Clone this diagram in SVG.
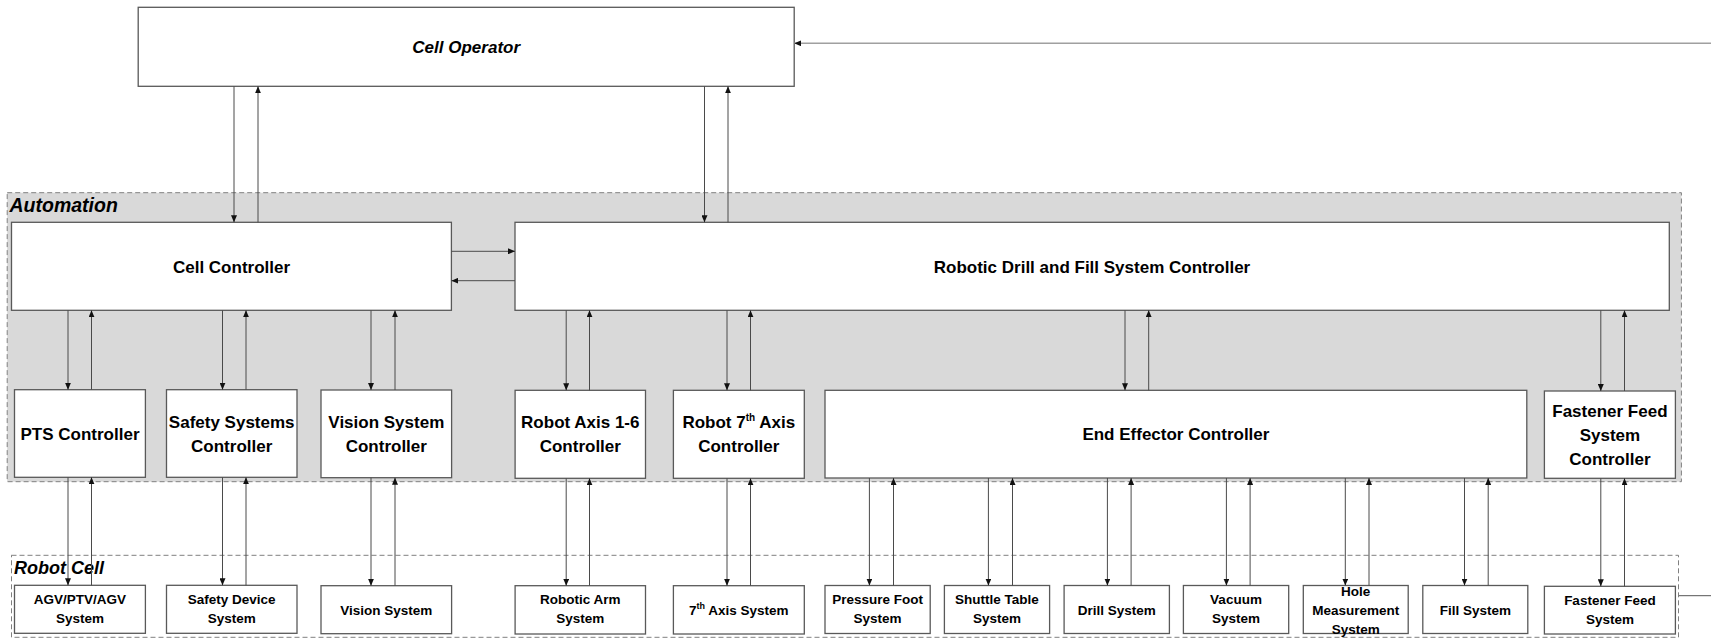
<svg xmlns="http://www.w3.org/2000/svg" width="1711" height="640" viewBox="0 0 1711 640">
  <defs>
    <marker id="arrow" viewBox="0 0 7 6" refX="7" refY="3" markerWidth="7" markerHeight="6" markerUnits="userSpaceOnUse" orient="auto">
      <path d="M0,0 L7,3 L0,6 z" fill="#111"/>
    </marker>
    <style>
      .box { fill: #fff; stroke: #595959; stroke-width: 1.3; }
      .zone { stroke: #808080; stroke-width: 1; stroke-dasharray: 5 3; }
      .t { font-family: "Liberation Sans", Arial, sans-serif; font-weight: bold; fill: #000; text-anchor: middle; }
      .big { font-size: 17px; }
      .small { font-size: 13.5px; }
      .zlabel { font-family: "Liberation Sans", Arial, sans-serif; font-weight: bold; font-style: italic; font-size: 18px; fill: #000; }
      .link { fill: none; stroke: #4a4a4a; stroke-width: 1; marker-end: url(#arrow); }
    </style>
  </defs>

  <rect width="1711" height="640" fill="#fff"/>

  <!-- Zones -->
  <g id="zone-automation">
    <rect class="zone" x="7.2" y="192.7" width="1674.2" height="289" fill="#d9d9d9"/>
    <text class="zlabel" x="9.5" y="211.5" style="font-size:19.5px">Automation</text>
  </g>
  <g id="zone-robot-cell">
    <rect class="zone" x="11.5" y="555.3" width="1667" height="82" fill="none"/>
    <text class="zlabel" x="14" y="574">Robot Cell</text>
  </g>

  <!-- Top level -->
  <g id="cell-operator">
    <rect class="box" x="138.2" y="7.3" width="656" height="79"/>
    <text class="t big" x="466.2" y="52.7" font-style="italic">Cell Operator</text>
  </g>
  <g id="cell-controller">
    <rect class="box" x="11.5" y="222.3" width="439.9" height="88"/>
    <text class="t big" x="231.5" y="272.5">Cell Controller</text>
  </g>
  <g id="drill-fill-controller">
    <rect class="box" x="515" y="222.3" width="1154.3" height="88"/>
    <text class="t big" x="1092" y="272.5">Robotic Drill and Fill System Controller</text>
  </g>

  <!-- Controllers -->
  <g id="pts-controller">
    <rect class="box" x="14.5" y="389.7" width="130.9" height="87.6"/>
    <text class="t big" x="80" y="439.6">PTS Controller</text>
  </g>
  <g id="safety-controller">
    <rect class="box" x="166.5" y="389.7" width="130.5" height="87.6"/>
    <text class="t big" x="231.7" y="427.7">Safety Systems</text>
    <text class="t big" x="231.7" y="451.7">Controller</text>
  </g>
  <g id="vision-controller">
    <rect class="box" x="321" y="390" width="130.6" height="87.7"/>
    <text class="t big" x="386.3" y="427.7">Vision System</text>
    <text class="t big" x="386.3" y="451.7">Controller</text>
  </g>
  <g id="robot-axis-controller">
    <rect class="box" x="515.1" y="390.3" width="130.4" height="88"/>
    <text class="t big" x="580.3" y="427.7">Robot Axis 1-6</text>
    <text class="t big" x="580.3" y="451.7">Controller</text>
  </g>
  <g id="seventh-axis-controller">
    <rect class="box" x="673.4" y="390.3" width="130.9" height="88"/>
    <text class="t big" x="738.8" y="427.7">Robot 7<tspan font-size="10" dy="-7">th</tspan><tspan dy="7"> Axis</tspan></text>
    <text class="t big" x="738.8" y="451.7">Controller</text>
  </g>
  <g id="end-effector-controller">
    <rect class="box" x="825" y="390.3" width="701.8" height="87.7"/>
    <text class="t big" x="1175.9" y="440.3">End Effector Controller</text>
  </g>
  <g id="fastener-feed-controller">
    <rect class="box" x="1544.4" y="391" width="131" height="87.3"/>
    <text class="t big" x="1609.9" y="417">Fastener Feed</text>
    <text class="t big" x="1609.9" y="441">System</text>
    <text class="t big" x="1609.9" y="464.5">Controller</text>
  </g>

  <!-- Cell systems -->
  <g id="agv-system">
    <rect class="box" x="14.5" y="585.3" width="130.9" height="48"/>
    <text class="t small" x="80" y="604.2">AGV/PTV/AGV</text>
    <text class="t small" x="80" y="623.2">System</text>
  </g>
  <g id="safety-device-system">
    <rect class="box" x="166.5" y="585.3" width="130.5" height="48"/>
    <text class="t small" x="231.7" y="604.2">Safety Device</text>
    <text class="t small" x="231.7" y="623.2">System</text>
  </g>
  <g id="vision-system">
    <rect class="box" x="321" y="585.7" width="130.6" height="48"/>
    <text class="t small" x="386.3" y="614.6">Vision System</text>
  </g>
  <g id="robotic-arm-system">
    <rect class="box" x="515.1" y="585.7" width="130.4" height="48.3"/>
    <text class="t small" x="580.3" y="604.4">Robotic Arm</text>
    <text class="t small" x="580.3" y="623.4">System</text>
  </g>
  <g id="seventh-axis-system">
    <rect class="box" x="673.4" y="585.7" width="130.9" height="48.3"/>
    <text class="t small" x="738.8" y="614.8">7<tspan font-size="9" dy="-6">th</tspan><tspan dy="6"> Axis System</tspan></text>
  </g>
  <g id="pressure-foot-system">
    <rect class="box" x="825" y="585.5" width="105.2" height="48"/>
    <text class="t small" x="877.6" y="604.4">Pressure Foot</text>
    <text class="t small" x="877.6" y="623.4">System</text>
  </g>
  <g id="shuttle-table-system">
    <rect class="box" x="944.4" y="585.5" width="105.2" height="48"/>
    <text class="t small" x="997" y="604.4">Shuttle Table</text>
    <text class="t small" x="997" y="623.4">System</text>
  </g>
  <g id="drill-system">
    <rect class="box" x="1064.1" y="585.5" width="105.3" height="48"/>
    <text class="t small" x="1116.7" y="614.6">Drill System</text>
  </g>
  <g id="vacuum-system">
    <rect class="box" x="1183.4" y="585.5" width="105.3" height="48"/>
    <text class="t small" x="1236" y="604.4">Vacuum</text>
    <text class="t small" x="1236" y="623.4">System</text>
  </g>
  <g id="hole-measurement-system">
    <rect class="box" x="1303.3" y="585.5" width="104.9" height="48"/>
    <text class="t small" x="1355.7" y="595.6">Hole</text>
    <text class="t small" x="1355.7" y="614.9">Measurement</text>
    <text class="t small" x="1355.7" y="633.9">System</text>
  </g>
  <g id="fill-system">
    <rect class="box" x="1422.8" y="585.5" width="105" height="48"/>
    <text class="t small" x="1475.3" y="614.6">Fill System</text>
  </g>
  <g id="fastener-feed-system">
    <rect class="box" x="1544.4" y="586.3" width="131" height="47.7"/>
    <text class="t small" x="1609.9" y="605">Fastener Feed</text>
    <text class="t small" x="1609.9" y="624">System</text>
  </g>

  <!-- Connectors -->
  <g id="connectors">
    <!-- operator links -->
    <line class="link" x1="234" y1="86.3" x2="234" y2="222.3"/>
    <line class="link" x1="258" y1="222.3" x2="258" y2="86.3"/>
    <line class="link" x1="704.5" y1="86.3" x2="704.5" y2="222.3"/>
    <line class="link" x1="728" y1="222.3" x2="728" y2="86.3"/>
    <line class="link" x1="1711" y1="43.3" x2="794.2" y2="43.3" style="stroke:#a0a0a0;stroke-width:1.6"/>

    <!-- cell controller and drill/fill controller -->
    <line class="link" x1="451.4" y1="251.3" x2="515" y2="251.3"/>
    <line class="link" x1="515" y1="280.7" x2="451.4" y2="280.7"/>

    <!-- cell controller to its controllers -->
    <line class="link" x1="68" y1="310.3" x2="68" y2="389.7"/>
    <line class="link" x1="91.5" y1="389.7" x2="91.5" y2="310.3"/>
    <line class="link" x1="222.5" y1="310.3" x2="222.5" y2="389.7"/>
    <line class="link" x1="246" y1="389.7" x2="246" y2="310.3"/>
    <line class="link" x1="371" y1="310.3" x2="371" y2="390"/>
    <line class="link" x1="395" y1="390" x2="395" y2="310.3"/>

    <!-- drill/fill controller to its controllers -->
    <line class="link" x1="566.2" y1="310.3" x2="566.2" y2="390.3"/>
    <line class="link" x1="589.5" y1="390.3" x2="589.5" y2="310.3"/>
    <line class="link" x1="727" y1="310.3" x2="727" y2="390.3"/>
    <line class="link" x1="750.5" y1="390.3" x2="750.5" y2="310.3"/>
    <line class="link" x1="1125" y1="310.3" x2="1125" y2="390.3"/>
    <line class="link" x1="1148.7" y1="390.3" x2="1148.7" y2="310.3"/>
    <line class="link" x1="1600.8" y1="310.3" x2="1600.8" y2="391"/>
    <line class="link" x1="1624.5" y1="391" x2="1624.5" y2="310.3"/>

    <!-- controllers to cell systems -->
    <line class="link" x1="68" y1="477.3" x2="68" y2="585.3"/>
    <line class="link" x1="91.5" y1="585.3" x2="91.5" y2="477.3"/>
    <line class="link" x1="222.5" y1="477.3" x2="222.5" y2="585.3"/>
    <line class="link" x1="246" y1="585.3" x2="246" y2="477.3"/>
    <line class="link" x1="371" y1="477.7" x2="371" y2="585.7"/>
    <line class="link" x1="395" y1="585.7" x2="395" y2="477.7"/>
    <line class="link" x1="566.2" y1="478.3" x2="566.2" y2="585.7"/>
    <line class="link" x1="589.5" y1="585.7" x2="589.5" y2="478.3"/>
    <line class="link" x1="727" y1="478.3" x2="727" y2="585.7"/>
    <line class="link" x1="750.5" y1="585.7" x2="750.5" y2="478.3"/>

    <!-- end effector to its systems -->
    <line class="link" x1="869.4" y1="478" x2="869.4" y2="585.5"/>
    <line class="link" x1="893.5" y1="585.5" x2="893.5" y2="478"/>
    <line class="link" x1="988.4" y1="478" x2="988.4" y2="585.5"/>
    <line class="link" x1="1012.5" y1="585.5" x2="1012.5" y2="478"/>
    <line class="link" x1="1107.4" y1="478" x2="1107.4" y2="585.5"/>
    <line class="link" x1="1131.1" y1="585.5" x2="1131.1" y2="478"/>
    <line class="link" x1="1226.4" y1="478" x2="1226.4" y2="585.5"/>
    <line class="link" x1="1250.1" y1="585.5" x2="1250.1" y2="478"/>
    <line class="link" x1="1345.3" y1="478" x2="1345.3" y2="585.5"/>
    <line class="link" x1="1369" y1="585.5" x2="1369" y2="478"/>
    <line class="link" x1="1464.5" y1="478" x2="1464.5" y2="585.5"/>
    <line class="link" x1="1488.2" y1="585.5" x2="1488.2" y2="478"/>

    <!-- fastener feed -->
    <line class="link" x1="1600.8" y1="478.3" x2="1600.8" y2="586.3"/>
    <line class="link" x1="1624.5" y1="586.3" x2="1624.5" y2="478.3"/>

    <!-- feedback leaving the cell on the right -->
    <line x1="1679" y1="595.7" x2="1711" y2="595.7" stroke="#555" stroke-width="1"/>
  </g>
</svg>
